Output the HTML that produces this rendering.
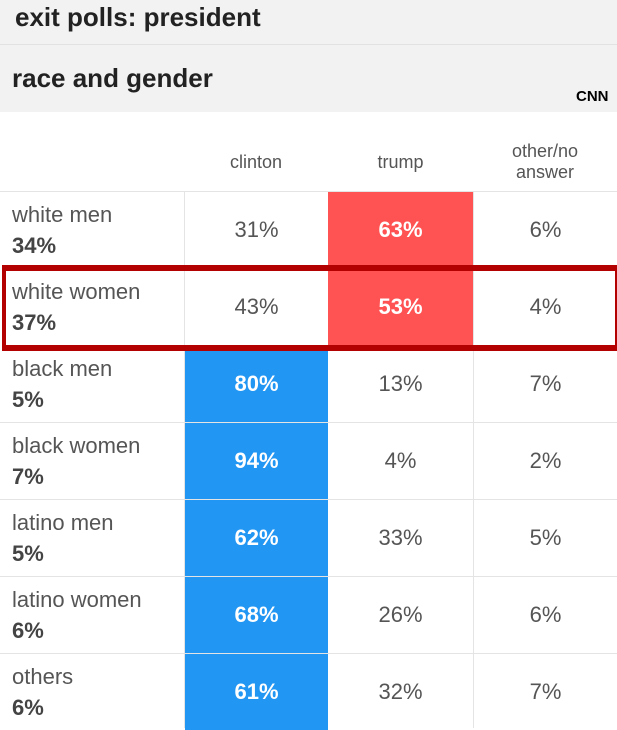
<!DOCTYPE html>
<html><head><style>
body{margin:0;width:617px;height:728px;overflow:hidden;background:#fff;font-family:"Liberation Sans",sans-serif;position:relative}
.a{position:absolute}
.hd{background:#f2f2f2;left:0;width:617px}
.t{font-weight:bold;color:#222;font-size:26px}
.cell{position:absolute;display:flex;align-items:center;justify-content:center;font-size:22px;color:#555}
.r{background:#ff5252;color:#fff;font-weight:bold}
.b{background:#2196f3;color:#fff;font-weight:bold}
.lab{position:absolute;left:12px;font-size:22px;color:#555;line-height:31px}
.lab b{color:#444}
.hl{position:absolute;height:1px;background:#e4e4e4;left:0;width:617px}
.vl{position:absolute;width:1px;background:#e4e4e4}
</style></head><body>
<div class="a hd" style="top:0;height:44px"></div>
<div class="a" style="top:44px;left:0;width:617px;height:1px;background:#e2e2e2"></div>
<div class="a hd" style="top:45px;height:67px"></div>
<div class="a t" style="left:15px;top:2px">exit polls: president</div>
<div class="a t" style="left:12px;top:63px">race and gender</div>
<div class="a" style="left:576px;top:88px;font-size:15px;font-weight:bold;color:#000">CNN</div>
<div class="cell" style="left:184px;width:144px;top:140px;height:44px;font-size:18px">clinton</div>
<div class="cell" style="left:328px;width:145px;top:140px;height:44px;font-size:18px">trump</div>
<div class="cell" style="left:473px;width:144px;top:140px;height:44px;font-size:18px;text-align:center;line-height:21px">other/no<br>answer</div>
<div class="hl" style="top:191px"></div>
<div class="hl" style="top:422px"></div>
<div class="hl" style="top:499px"></div>
<div class="hl" style="top:576px"></div>
<div class="hl" style="top:653px"></div>
<div class="vl" style="left:184px;top:192px;height:536px"></div>
<div class="vl" style="left:473px;top:192px;height:536px"></div>
<div id="rows"></div>
<script>
var d=[["white men","34%","31%","63%","6%","r"],["white women","37%","43%","53%","4%","r"],["black men","5%","80%","13%","7%","b"],["black women","7%","94%","4%","2%","b"],["latino men","5%","62%","33%","5%","b"],["latino women","6%","68%","26%","6%","b"],["others","6%","61%","32%","7%","b"]];
var h="";d.forEach(function(r,i){var y=192+i*77;
h+='<div class="lab" style="top:'+(y+7)+'px">'+r[0]+'<br><b>'+r[1]+'</b></div>';
h+='<div class="cell '+(r[5]=="b"?"b":"")+'" style="left:185px;width:143px;top:'+y+'px;height:76px">'+r[2]+'</div>';
h+='<div class="cell '+(r[5]=="r"?"r":"")+'" style="left:328px;width:145px;top:'+y+'px;height:76px">'+r[3]+'</div>';
h+='<div class="cell" style="left:474px;width:143px;top:'+y+'px;height:76px">'+r[4]+'</div>';});
document.getElementById("rows").innerHTML=h;
</script>
<div class="a" style="left:2px;top:265px;width:609px;height:74px;border:6px solid #b30000;border-left-width:4px"></div>
</body></html>
